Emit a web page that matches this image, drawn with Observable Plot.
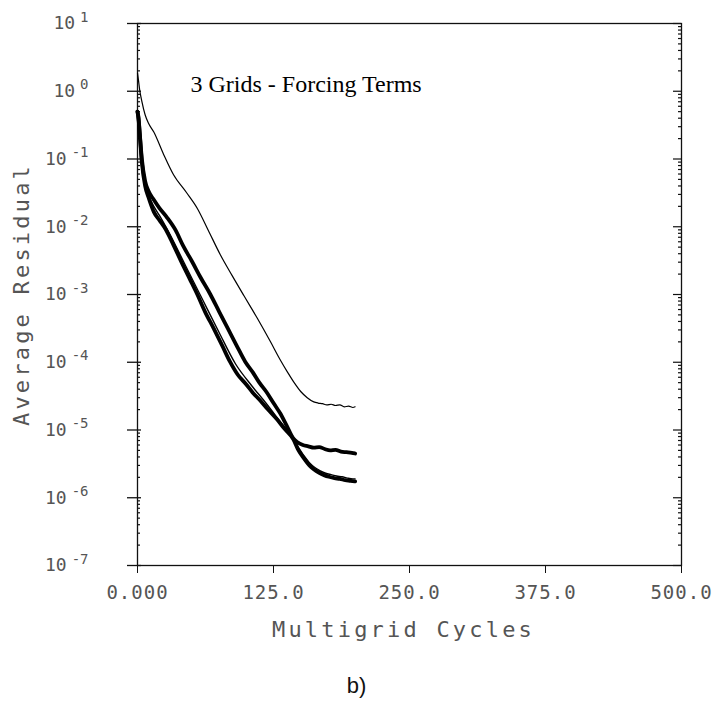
<!DOCTYPE html>
<html><head><meta charset="utf-8">
<script src="https://cdn.jsdelivr.net/npm/d3@7"></script>
<script src="https://cdn.jsdelivr.net/npm/@observablehq/plot@0.6"></script>
<style>
body{margin:0;background:#fff;}
#chart svg{display:block;}
#cap{width:713px;text-align:center;font-family:"Liberation Sans",Arial,sans-serif;font-size:22px;line-height:24px;padding-top:24px;color:#111;}
</style></head><body><div id="chart"></div><div id="cap">b)</div>
<script>
// ---- data ----
const topCycles = [0, 1, 2, 4, 7, 10, 15, 24, 33, 45, 55, 65, 76, 87, 98, 110, 122, 131, 138, 144, 150, 156, 162, 166, 170, 174, 178, 182, 186, 190, 194, 198, 200];
const topResid  = [1.86, 1.41, 1.05, 0.71, 0.45, 0.34, 0.25, 0.117, 0.059, 0.032, 0.0186, 0.0089, 0.0039, 0.0019, 0.00095, 0.00045, 0.000204, 0.00011, 7.1e-5, 5.0e-5, 3.7e-5, 3.0e-5, 2.6e-5, 2.5e-5, 2.45e-5, 2.35e-5, 2.4e-5, 2.3e-5, 2.35e-5, 2.2e-5, 2.25e-5, 2.15e-5, 2.2e-5];

const upperCycles = [0, 1, 2, 4, 7, 10, 15, 20, 27, 35, 42, 50, 58, 67, 75, 83, 91, 99, 106, 112, 119, 125, 131, 137, 143, 147, 152, 157, 162, 167, 172, 177, 182, 187, 192, 197, 200];
const upperResid  = [0.5, 0.4, 0.25, 0.1, 0.047, 0.034, 0.025, 0.019, 0.0138, 0.0089, 0.0052, 0.0031, 0.00178, 0.001, 0.00056, 0.000316, 0.000178, 0.000102, 7.1e-5, 5.0e-5, 3.55e-5, 2.5e-5, 1.78e-5, 1.17e-5, 7.6e-6, 6.6e-6, 6.0e-6, 5.75e-6, 5.5e-6, 5.6e-6, 5.25e-6, 5.0e-6, 5.1e-6, 4.8e-6, 4.7e-6, 4.6e-6, 4.5e-6];

const lowerCycles = [0, 1, 2, 4, 7, 10, 15, 20, 26, 33, 40, 48, 55, 62, 70, 78, 85, 92, 100, 106, 113, 120, 128, 135, 143, 148, 153, 158, 162, 167, 172, 176, 181, 186, 191, 196, 200];
const lowerResid  = [0.5, 0.38, 0.24, 0.089, 0.04, 0.0275, 0.0166, 0.0126, 0.0091, 0.0054, 0.0031, 0.0017, 0.001, 0.00056, 0.000316, 0.000174, 0.000102, 6.6e-5, 4.7e-5, 3.55e-5, 2.7e-5, 2.0e-5, 1.45e-5, 1.05e-5, 7.4e-6, 5.0e-6, 3.8e-6, 3.0e-6, 2.63e-6, 2.34e-6, 2.14e-6, 2.04e-6, 1.95e-6, 1.9e-6, 1.82e-6, 1.78e-6, 1.74e-6];

const midCycles = [0, 2, 4, 7, 10, 15, 20, 30, 45, 60, 75, 90, 105, 118, 130, 143, 148, 153, 158, 163, 168, 173, 178, 183, 188, 193, 198, 200];
const midResid  = [0.5, 0.25, 0.095, 0.044, 0.030, 0.020, 0.0148, 0.0076, 0.0025, 0.00083, 0.000275, 9.5e-5, 4.5e-5, 2.5e-5, 1.4e-5, 7.4e-6, 5.5e-6, 4.17e-6, 3.3e-6, 2.8e-6, 2.5e-6, 2.3e-6, 2.19e-6, 2.09e-6, 2.04e-6, 1.95e-6, 1.9e-6, 1.9e-6];

const yDecades = [1e-7, 1e-6, 1e-5, 1e-4, 1e-3, 1e-2, 1e-1, 1e0, 1e1];
const yExponents = ["-7", "-6", "-5", "-4", "-3", "-2", "-1", "0", "1"];
const xTicks = [0, 125, 250, 375, 500];
const xTickLabels = ["0.000", "125.0", "250.0", "375.0", "500.0"];
const titleText = "3 Grids - Forcing Terms";
const xLabel = "Multigrid Cycles";
const yLabel = "Average Residual";

// ---- build ----
const minorTicks = [];
for (const d of yDecades.slice(0, -1)) for (let m = 2; m <= 9; m++) minorTicks.push(d * m);

const fmtY = d => "10^" + yExponents[yDecades.indexOf(d)];
const fmtX = d => xTickLabels[xTicks.indexOf(d)];

const mk = (xs, ys) => xs.map((x, i) => ({x, y: ys[i]}));
const W = 713, H = 650, mL = 137, mR = 32, mT = 23, mB = 85;
const innerW = W - mL - mR;
const mono = "DejaVu Sans Mono";
const ink = "#111";
const labelInk = "#555";

const chart = Plot.plot({
  width: W, height: H,
  marginLeft: mL, marginRight: mR, marginTop: mT, marginBottom: mB,
  style: {fontFamily: mono, fontSize: "18px", color: labelInk, background: "#fff"},
  x: {domain: [0, 500]},
  y: {type: "log", domain: [1e-7, 10]},
  marks: [
    Plot.frame({stroke: ink, strokeWidth: 1.3}),
    Plot.axisY({ticks: yDecades, tickSize: 10, tickPadding: 39, tickFormat: fmtY, label: null, fontSize: 18, stroke: ink, fill: labelInk, strokeWidth: 1.3}),
    Plot.ruleY(yDecades, {insetRight: innerW - 4, stroke: ink, strokeWidth: 1.3}),
    Plot.ruleY(minorTicks, {insetRight: innerW - 3, stroke: ink, strokeWidth: 1.2}),
    Plot.ruleY(yDecades, {insetLeft: innerW - 8, stroke: ink, strokeWidth: 1.2}),
    Plot.ruleY(minorTicks, {insetLeft: innerW - 3, stroke: ink, strokeWidth: 1.2}),
    Plot.axisX({ticks: xTicks, tickSize: 8, tickPadding: 12, tickFormat: fmtX, label: null, fontSize: 19, stroke: ink, fill: labelInk}),
    Plot.line(mk(lowerCycles, lowerResid), {x: "x", y: "y", stroke: "#000", strokeWidth: 3.8, curve: "monotone-x", strokeLinejoin: "round"}),
    Plot.line(mk(upperCycles, upperResid), {x: "x", y: "y", stroke: "#000", strokeWidth: 3.8, curve: "monotone-x", strokeLinejoin: "round"}),
    Plot.line(mk(midCycles, midResid), {x: "x", y: "y", stroke: "#000", strokeWidth: 1.4, curve: "monotone-x", strokeLinejoin: "round"}),
    Plot.line(mk(topCycles, topResid), {x: "x", y: "y", stroke: "#000", strokeWidth: 1.2, curve: "monotone-x", strokeLinejoin: "round"}),
    Plot.text([titleText], {frameAnchor: "top-left", dx: 53, dy: 61, textAnchor: "start", lineAnchor: "middle", fontFamily: "Liberation Serif", fontSize: 24, fill: "#000"}),
    Plot.text([yLabel], {frameAnchor: "left", dx: -116, rotate: -90, textAnchor: "middle", lineAnchor: "middle", fontSize: 22, fill: labelInk}),
    Plot.text([xLabel], {frameAnchor: "bottom", dx: -6, dy: 64, textAnchor: "middle", lineAnchor: "middle", fontSize: 22, fill: labelInk})
  ]
});
document.getElementById("chart").appendChild(chart);

// letter spacing and raised exponents, matching the plotter lettering
d3.select(chart).selectAll("text").each(function() {
  const t = this.textContent;
  const sel = d3.select(this);
  if (t === xLabel || t === yLabel) sel.style("letter-spacing", "3.2px");
  else if (xTickLabels.includes(t)) sel.style("letter-spacing", "1px");
  else if (t.startsWith("10^")) {
    const e = t.slice(3);
    sel.text("10");
    sel.append("tspan").attr("dx", 5).attr("dy", "-0.55em").attr("font-size", 14).text(e);
  }
});
</script>
</body></html>
